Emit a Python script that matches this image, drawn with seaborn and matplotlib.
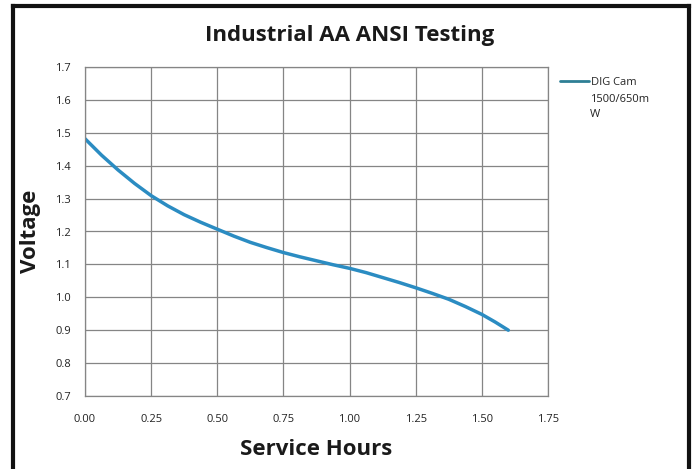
import matplotlib
matplotlib.use("Agg")
import matplotlib.pyplot as plt
import seaborn as sns
import pandas as pd
from matplotlib.lines import Line2D

hours = [0.0, 0.0625, 0.125, 0.1875, 0.25, 0.3125, 0.375, 0.4375, 0.5, 0.5625, 0.625,
         0.6875, 0.75, 0.8125, 0.875, 0.9375, 1.0, 1.0625, 1.125, 1.1875, 1.25,
         1.3125, 1.375, 1.4375, 1.5, 1.55, 1.6]
volts = [1.482, 1.432, 1.387, 1.346, 1.309, 1.278, 1.251, 1.228, 1.207, 1.186, 1.167,
         1.151, 1.136, 1.123, 1.111, 1.099, 1.088, 1.075, 1.060, 1.045, 1.029,
         1.012, 0.994, 0.972, 0.948, 0.925, 0.90]
series_name = "DIG Cam"
series_name_rest = "1500/650m\nW"
x_ticks = [0.00, 0.25, 0.50, 0.75, 1.00, 1.25, 1.50, 1.75]
y_ticks = [0.7, 0.8, 0.9, 1.0, 1.1, 1.2, 1.3, 1.4, 1.5, 1.6, 1.7]

sns.set_style("white")
plt.rcParams["font.family"] = ["Open Sans", "DejaVu Sans"]

df = pd.DataFrame({"Service Hours": hours, "Voltage": volts})

W, H = 696, 469
fig = plt.figure(figsize=(W/100, H/100), dpi=100)
ax = fig.add_axes([85/W, 1-396/H, (548-85)/W, (396-67)/H])

sns.lineplot(data=df, x="Service Hours", y="Voltage", ax=ax, color="#2B8CC2",
             linewidth=2.5, label=series_name)

ax.set_xlim(0, 1.75)
ax.set_ylim(0.7, 1.7)
ax.set_xticks(x_ticks)
ax.set_xticklabels([f"{v:.2f}" for v in x_ticks])
ax.set_yticks(y_ticks)
ax.set_yticklabels([f"{v:.1f}" for v in y_ticks])
ax.grid(True, color="#858585", linewidth=0.9)
ax.set_axisbelow(True)
for s in ax.spines.values():
    s.set_color("#858585")
    s.set_linewidth(0.9)
ax.tick_params(axis="both", length=0, labelsize=8, colors="#222222")
ax.tick_params(axis="x", pad=13)
ax.tick_params(axis="y", pad=10)

ax.set_xlabel("Service Hours", fontsize=16, fontweight="bold", color="#1a1a1a", labelpad=10)
ax.set_ylabel("Voltage", fontsize=16, fontweight="bold", color="#1a1a1a", labelpad=10)

fig.text(350/W, 1-35/H, "Industrial AA ANSI Testing", ha="center", va="center",
         fontsize=16, fontweight="bold", color="#1a1a1a")

leg = ax.legend(loc="upper left", frameon=False,
                fontsize=8, handlelength=2.6, handletextpad=0.15, borderaxespad=0,
                borderpad=0)
leg.set_bbox_to_anchor((560/W, 1-77/H), transform=fig.transFigure)
for h in leg.get_lines():
    h.set_color("#2E7F95")
    h.set_linewidth(2)

fig.text(590/W, 1-94/H, series_name_rest, ha="left", va="top", fontsize=8,
         color="#222222", linespacing=1.5)

for xs, ys in [([13/W, 13/W], [0, 1-6/H]), ([13/W, 689/W], [1-6/H, 1-6/H]),
               ([689/W, 689/W], [1-6/H, 0])]:
    fig.add_artist(Line2D(xs, ys, transform=fig.transFigure, color="#111111",
                          linewidth=3, solid_capstyle="projecting"))

fig.savefig("out.png", dpi=100)
